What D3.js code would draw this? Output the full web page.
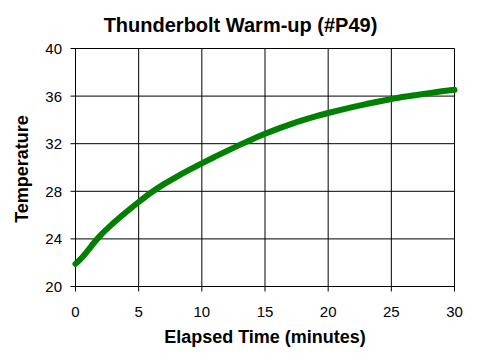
<!DOCTYPE html>
<html>
<head>
<meta charset="utf-8">
<script src="https://cdn.jsdelivr.net/npm/d3@7"></script>
<style>
  html, body { margin: 0; padding: 0; background: #fff; }
  svg { display: block; }
  text { font-family: Arial, "Liberation Sans", sans-serif; fill: #000; }
</style>
</head>
<body>
<svg id="chart" width="480" height="360"></svg>
<script>
const title = "Thunderbolt Warm-up (#P49)";
const xTitle = "Elapsed Time (minutes)";
const yTitle = "Temperature";
const xTicks = [0, 5, 10, 15, 20, 25, 30];
const yTicks = [20, 24, 28, 32, 36, 40];
const minutes = [0, 0.5, 1, 1.5, 2, 3, 4, 5, 6, 7, 8, 9, 10, 11, 12, 13, 14, 15, 16, 17, 18, 19, 20, 21, 22, 23, 24, 25, 26, 27, 28, 29, 30];
const temperature = [21.9, 22.42, 23.05, 23.72, 24.32, 25.33, 26.24, 27.1, 27.9, 28.6, 29.22, 29.8, 30.35, 30.88, 31.4, 31.9, 32.38, 32.83, 33.25, 33.63, 33.98, 34.3, 34.58, 34.85, 35.1, 35.33, 35.55, 35.75, 35.94, 36.1, 36.25, 36.4, 36.53];

const svg = d3.select("#chart");
const x = d3.scaleLinear().domain([0, 30]).range([75.5, 454.5]);
const y = d3.scaleLinear().domain([20, 40]).range([286.5, 48.5]);

// gridlines
svg.append("g").selectAll("line").data(xTicks).join("line")
  .attr("x1", d => x(d)).attr("x2", d => x(d))
  .attr("y1", y(40)).attr("y2", y(20) + 5)
  .attr("stroke", "#000").attr("stroke-width", 1);
svg.append("g").selectAll("line").data(yTicks).join("line")
  .attr("y1", d => y(d)).attr("y2", d => y(d))
  .attr("x1", x(0) - 5).attr("x2", x(30))
  .attr("stroke", "#000").attr("stroke-width", 1);

// tick labels
svg.append("g").selectAll("text").data(xTicks).join("text")
  .attr("x", d => x(d)).attr("y", 317)
  .attr("text-anchor", "middle").attr("font-size", 15)
  .text(d => d);
svg.append("g").selectAll("text").data(yTicks).join("text")
  .attr("x", 62).attr("y", d => y(d) + 5.5)
  .attr("text-anchor", "end").attr("font-size", 15)
  .text(d => d);

// line
const line = d3.line().x((d, i) => x(minutes[i])).y(d => y(d)).curve(d3.curveMonotoneX);
svg.append("path").datum(temperature)
  .attr("d", line).attr("fill", "none")
  .attr("stroke", "#008000").attr("stroke-width", 6)
  .attr("stroke-linecap", "round").attr("stroke-linejoin", "round");

// titles
svg.append("text").attr("x", 240.5).attr("y", 31.5)
  .attr("text-anchor", "middle").attr("font-size", 20).attr("font-weight", "bold")
  .text(title);
svg.append("text").attr("x", 265).attr("y", 343)
  .attr("text-anchor", "middle").attr("font-size", 18).attr("font-weight", "bold")
  .text(xTitle);
svg.append("text").attr("transform", "translate(28,169) rotate(-90)")
  .attr("text-anchor", "middle").attr("font-size", 18).attr("font-weight", "bold")
  .text(yTitle);
</script>
</body>
</html>
